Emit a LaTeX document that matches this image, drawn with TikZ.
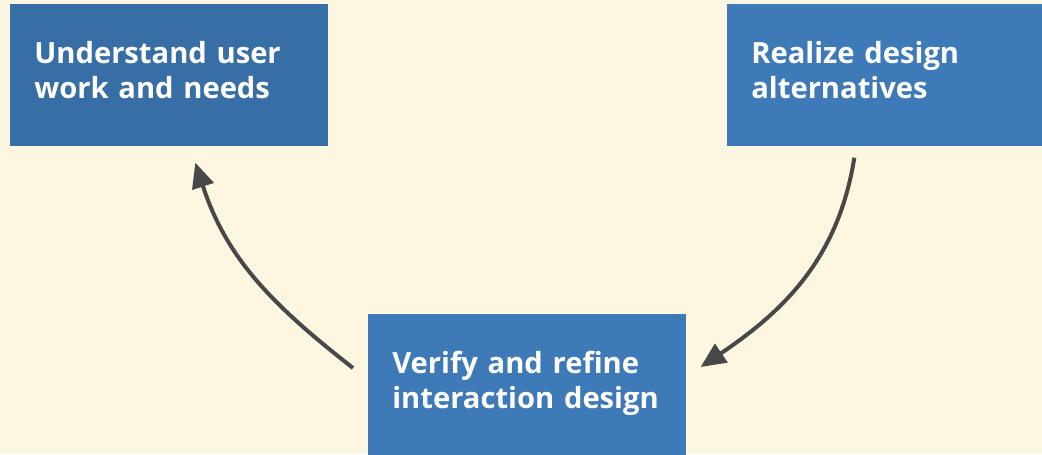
\documentclass[tikz,border=0pt]{standalone}
\usepackage{fontspec}
\setmainfont{Open Sans}
\usepackage{tikz}
\usetikzlibrary{arrows.meta}
\definecolor{cream}{RGB}{253,247,225}
\definecolor{darkblue}{RGB}{56,110,166}
\definecolor{midblue}{RGB}{62,122,184}
\definecolor{arrowgray}{RGB}{72,72,72}

\begin{document}
\begin{tikzpicture}[x=0.02cm,y=-0.02cm,stage/.style={rectangle, fill=midblue, text=white, anchor=north west, minimum width=6.36cm, text width=5.4cm, inner xsep=0.48cm, inner ysep=0pt, text height=1.18cm, text depth=1.66cm, align=left, font=\fontsize{16.6pt}{19.9pt}\selectfont\bfseries},flow/.style={draw=arrowgray, line width=0.08cm, -{Triangle[length=0.5cm,width=0.44cm]}}]
	
	\useasboundingbox[fill=cream] (0,0) rectangle (1042,454);
	
	\node[stage, fill=darkblue, inner xsep=0.44cm] (understand) at (10,4) {Understand user\\work and needs};
	\node[stage] (realize) at (727,4) {Realize design\\alternatives};
	\node[stage] (verify) at (368,314) {Verify and refine\\interaction design};
	
	\draw[flow] ([shift={(-32,11)}]realize.south) to[out=261,in=34] ([shift={(14,53)}]verify.north east);
	\draw[flow] ([shift={(-15,54)}]verify.north west) to[out=142,in=-72] ([shift={(26,16)}]understand.south);
	\end{tikzpicture}
\end{document}
